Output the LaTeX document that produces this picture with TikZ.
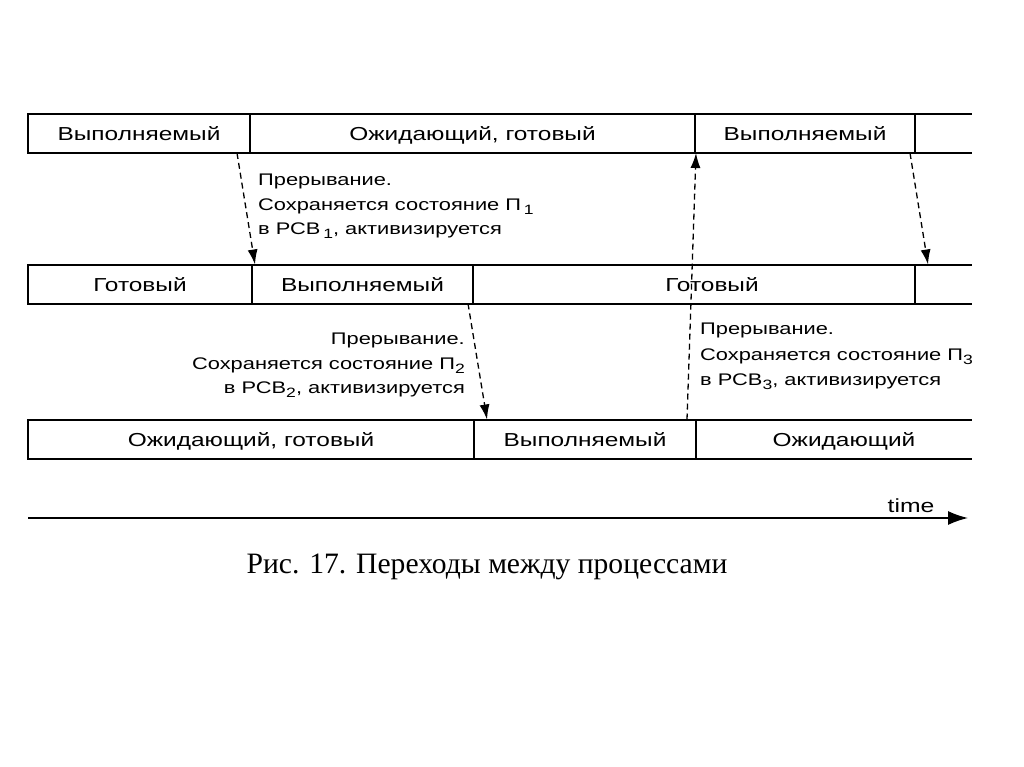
\documentclass[tikz,border=0pt]{standalone}
\usepackage{fontspec}
\setmainfont{Liberation Sans}[FakeStretch=1.3]
\newfontfamily\capfont{Liberation Serif}
\usetikzlibrary{calc,arrows.meta}
\newcommand\subs[1]{\raisebox{-0.45ex}{\fontsize{13.5}{13.5}\selectfont #1}}
\begin{document}
\begin{tikzpicture}[x=1pt,y=1pt,
  seg/.style={draw, line width=2pt, minimum height=39pt, inner sep=0pt, outer sep=0pt,
    text height=15pt, text depth=0pt, font=\fontsize{18.8}{20}\selectfont},
  tail/.style={line width=2pt},
  conn/.style={line width=1.3pt, dash pattern=on 6pt off 4pt, -{Latex[length=15pt,width=10pt]}},
  lbl/.style={font=\fontsize{16.8}{24.5}\selectfont, inner sep=0pt},
  axis/.style={line width=1.6pt, -{Latex[length=20pt,width=14pt]}}
]
\useasboundingbox (0,0) rectangle (1024,-767);
% row 1
\node[seg, minimum width=222pt] (r1a) at (139,-133.5) {Выполняемый};
\node[seg, minimum width=445pt, anchor=west] (r1b) at (r1a.east) {Ожидающий, готовый};
\node[seg, minimum width=220pt, anchor=west] (r1c) at (r1b.east) {Выполняемый};
\draw[tail] (r1c.north east) -- ++(57,0);
\draw[tail] (r1c.south east) -- ++(57,0);
% row 2
\node[seg, minimum width=224pt] (r2a) at (140,-284) {Готовый};
\node[seg, minimum width=221pt, anchor=west] (r2b) at (r2a.east) {Выполняемый};
\node[seg, minimum width=442pt, anchor=west] (r2c) at (r2b.east) {\hspace{36pt}Готовый};
\draw[tail] (r2c.north east) -- ++(57,0);
\draw[tail] (r2c.south east) -- ++(57,0);
% row 3
\node[seg, minimum width=446pt] (r3a) at (251,-439) {Ожидающий, готовый};
\node[seg, minimum width=222pt, anchor=west] (r3b) at (r3a.east) {Выполняемый};
\node[seg, minimum width=276pt, anchor=west, draw=none] (r3c) at (r3b.east) {\hspace{20pt}Ожидающий};
\draw[tail] (r3c.north west) -- (r3c.north east);
\draw[tail] (r3c.south west) -- (r3c.south east);
% connectors
\draw[conn] ($(r1a.south east)+(-13,0)$) -- ($(r2a.north east)+(3,0)$);
\draw[conn] ($(r1c.south east)+(-5,0)$) -- ($(r2c.north east)+(13,0)$);
\draw[conn] ($(r3b.north east)+(-9,0)$) -- ($(r1b.south east)+(1,0)$);
\draw[conn] ($(r2b.south east)+(-5,0)$) -- ($(r3a.north east)+(13,0)$);
% labels
\node[lbl, align=left, anchor=north west] (t1) at (258,-174) {Прерывание.\\Сохраняется состояние П\,\subs{1}\\в РСВ\,\subs{1}, активизируется};
\node[lbl, align=right, anchor=north east] (t2) at (465,-333) {Прерывание.\\Сохраняется состояние П\subs{2}\\в РСВ\subs{2}, активизируется};
\node[lbl, align=left, anchor=north west, font=\fontsize{16.8}{25.5}\selectfont] (t3) at (700,-323) {Прерывание.\\Сохраняется состояние П\subs{3}\\в РСВ\subs{3}, активизируется};
% time axis
\coordinate (ax0) at (28,-518);
\coordinate (ax1) at (968,-518);
\draw[axis] (ax0) -- (ax1);
\node[font=\fontsize{19}{20}\selectfont, anchor=base] (tm) at (911,-512) {time};
% caption
\node[font=\capfont\fontsize{29.6}{31}\selectfont] (cap) at (487,-567) {Рис. 17. Переходы между процессами};
\end{tikzpicture}
\end{document}
